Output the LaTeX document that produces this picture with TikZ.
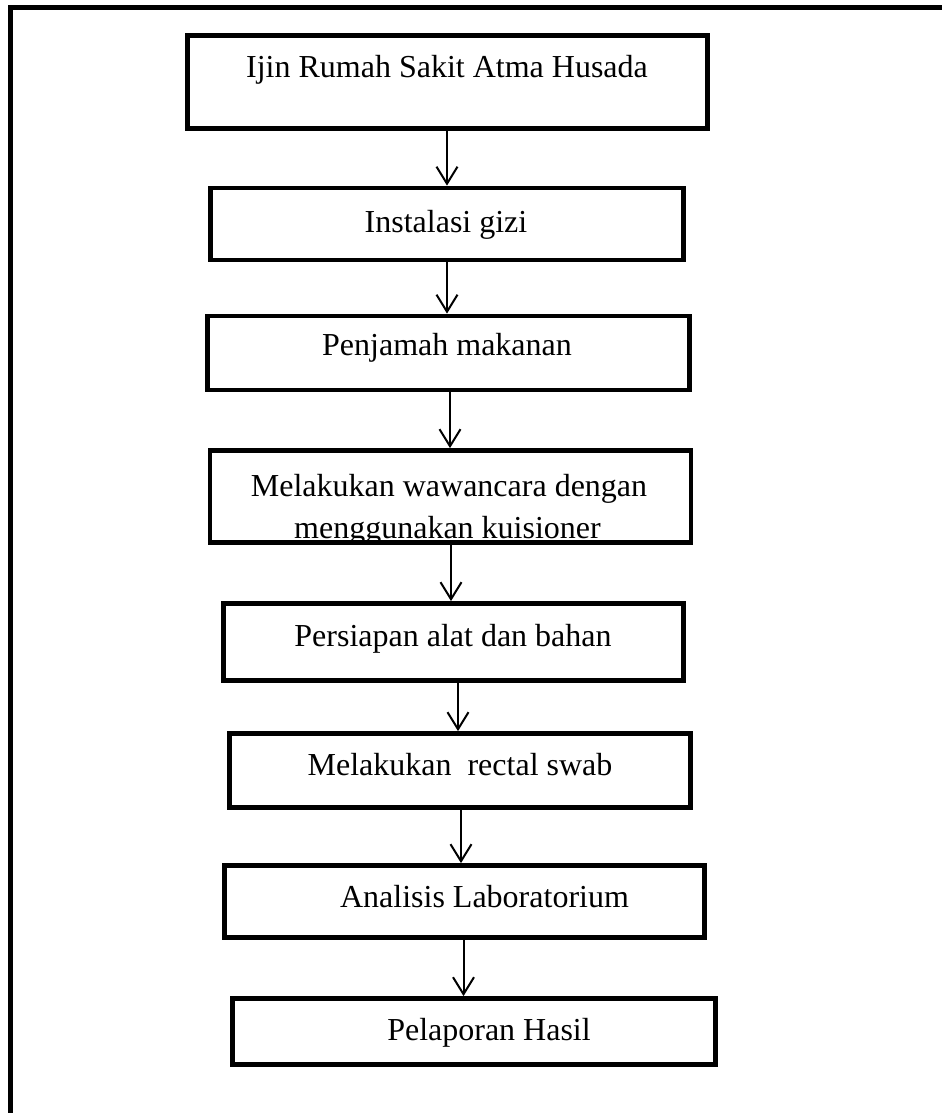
\documentclass[tikz,border=0pt]{standalone}
\usepackage{fontspec}
\setmainfont{Liberation Serif}
\usetikzlibrary{arrows.meta}
\begin{document}
\begin{tikzpicture}[x=1pt,y=-1pt,
  stepbox/.style={draw, line width=4.8pt, inner sep=0pt, rectangle},
  txt/.style={font=\fontsize{32}{36}\selectfont, inner sep=0pt, anchor=base, align=center},
  arr/.style={line width=2pt, -{Straight Barb[length=17pt,width=21pt]}}]
\useasboundingbox (0,0) rectangle (942,1113);
% outer frame (clipped by page)
\draw[line width=5pt, line join=miter] (10.5,1113) -- (10.5,7.5) -- (942,7.5);
% texts of box 4 (clipped by the box, drawn below its border)
\coordinate (c4sw) at (212,545);
\coordinate (c4ne) at (689,448);
\begin{scope}
  \clip ([xshift=2.4pt,yshift=2.4pt]c4sw) rectangle ([xshift=-2.4pt,yshift=-2.4pt]c4ne);
  \node[txt] (t4a) at (449,496) {Melakukan wawancara dengan};
  \node[txt] (t4b) at (447.5,538) {menggunakan kuisioner};
\end{scope}
% boxes
\node[stepbox, minimum width=520pt, minimum height=93pt] (b1) at (447.5,82) {};
\node[stepbox, minimum width=473pt, minimum height=72pt] (b2) at (447,224) {};
\node[stepbox, minimum width=482pt, minimum height=74pt] (b3) at (448.5,353) {};
\node[stepbox, minimum width=481pt, minimum height=92pt] (b4) at (450.5,496.5) {};
\node[stepbox, minimum width=460pt, minimum height=77pt] (b5) at (453.5,642) {};
\node[stepbox, minimum width=461pt, minimum height=74pt] (b6) at (460,770.5) {};
\node[stepbox, minimum width=480pt, minimum height=72pt] (b7) at (464.5,901.5) {};
\node[stepbox, minimum width=483pt, minimum height=66pt] (b8) at (474,1031.5) {};
% texts
\node[txt] (t1) at (447,78) {Ijin Rumah Sakit Atma Husada};
\node[txt] (t2) at (446,232) {Instalasi gizi};
\node[txt] (t3) at (447,355) {Penjamah makanan};
\node[txt] (t5) at (453,646.5) {Persiapan alat dan bahan};
\node[txt] (t6) at (460,775) {Melakukan\ \ rectal swab};
\node[txt] (t7) at (484.5,907) {Analisis Laboratorium};
\node[txt] (t8) at (489,1040) {Pelaporan Hasil};
% arrow columns
\coordinate (a1) at (447,0);
\coordinate (a2) at (447,0);
\coordinate (a3) at (450,0);
\coordinate (a4) at (451,0);
\coordinate (a5) at (458,0);
\coordinate (a6) at (461,0);
\coordinate (a7) at (463.5,0);
% connectors
\draw[arr] (b1.south -| a1) -- (b2.north -| a1);
\draw[arr] (b2.south -| a2) -- (b3.north -| a2);
\draw[arr] (b3.south -| a3) -- (b4.north -| a3);
\draw[arr] (b4.south -| a4) -- (b5.north -| a4);
\draw[arr] (b5.south -| a5) -- (b6.north -| a5);
\draw[arr] (b6.south -| a6) -- (b7.north -| a6);
\draw[arr] (b7.south -| a7) -- (b8.north -| a7);
\end{tikzpicture}
\end{document}
